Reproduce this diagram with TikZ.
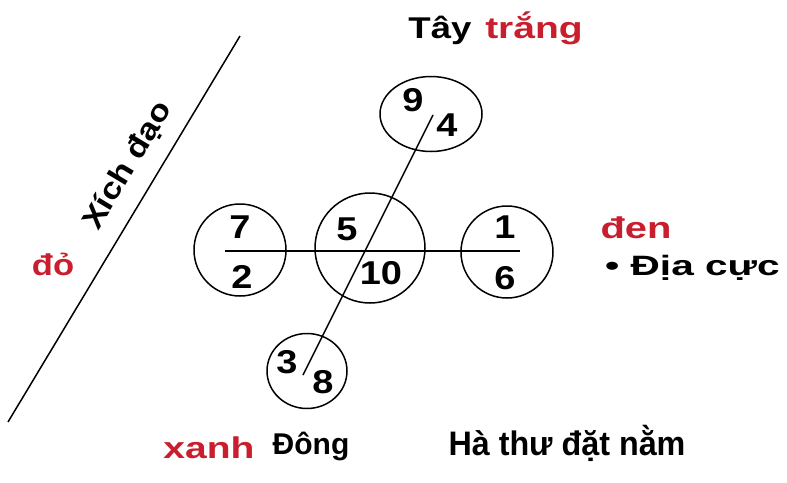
\documentclass[tikz,border=0pt]{standalone}
\usepackage{fontspec}
\usepackage{graphicx}
\setmainfont{Liberation Sans}
\usetikzlibrary{shapes.geometric}
\definecolor{redtxt}{RGB}{200,30,45}
\newcommand{\hstretch}[2]{\scalebox{#1}[1]{#2}}
\tikzset{
  ring/.style={draw, line width=1.5pt, circle, inner sep=0pt},
  oval/.style={draw, line width=1.5pt, ellipse, inner sep=0pt},
  digit/.style={inner sep=0pt, font=\fontsize{33}{33}\selectfont\bfseries},
  rule/.style={line width=1.5pt},
  lbl/.style={inner sep=0pt, font=\fontsize{30}{30}\selectfont\bfseries},
  rlbl/.style={lbl, text=redtxt},
}
\begin{document}
\begin{tikzpicture}[x=1pt,y=-1pt]
\useasboundingbox (0,0) rectangle (787,482);
% equator line
\coordinate (eqA) at (240,36);
\coordinate (eqB) at (8,422);
\draw[rule] (eqA) -- (eqB);
\node[lbl, rotate=59] (xich) at (128,166) {\hstretch{1.15}{Xích đạo}};
\node[rlbl] (do) at (53,264) {\hstretch{1.15}{đỏ}};
% circles
\node[ring, minimum size=92pt] (L) at (240,250) {};
\node[ring, minimum size=110pt] (C) at (370,248) {};
\node[ring, minimum size=92pt] (R) at (507,252) {};
\node[oval, minimum width=102pt, minimum height=75pt] (T) at (431,114) {};
\node[oval, minimum width=80pt, minimum height=75pt] (B) at (307,371) {};
% cross lines
\coordinate (hA) at (225,251);
\coordinate (hB) at (520,251);
\draw[rule] (hA) -- (hB);
\coordinate (dA) at (433,115);
\coordinate (dB) at (303,375);
\draw[rule] (dA) -- (dB);
% digits
\node[digit] (n7) at (240,227) {\hstretch{1.15}{7}};
\node[digit] (n2) at (242,277) {\hstretch{1.15}{2}};
\node[digit] (n5) at (347,229) {\hstretch{1.15}{5}};
\node[digit] (n10) at (381,273) {\hstretch{1.15}{10}};
\node[digit] (n1) at (505,227) {\hstretch{1.15}{1}};
\node[digit] (n6) at (505,278) {\hstretch{1.15}{6}};
\node[digit] (n9) at (413,100) {\hstretch{1.15}{9}};
\node[digit] (n4) at (447,125) {\hstretch{1.15}{4}};
\node[digit] (n3) at (287,362) {\hstretch{1.15}{3}};
\node[digit] (n8) at (323,382) {\hstretch{1.15}{8}};
% labels
\node[lbl] (tay) at (440,30) {\hstretch{1.22}{Tây}};
\node[rlbl] (trang) at (534,28) {\hstretch{1.3}{trắng}};
\node[rlbl] (den) at (636,228) {\hstretch{1.33}{đen}};
\node[lbl, anchor=west, font=\fontsize{28}{28}\selectfont\bfseries] (diacuc) at (605,268) {\hstretch{1.45}{\textbullet\ Địa cực}};
\node[rlbl] (xanh) at (209,448) {\hstretch{1.3}{xanh}};
\node[lbl] (dong) at (311,446) {Đông};
\node[lbl, font=\fontsize{34}{34}\selectfont\bfseries] (hathu) at (567,443) {\hstretch{0.95}{Hà thư đặt nằm}};
\end{tikzpicture}
\end{document}
